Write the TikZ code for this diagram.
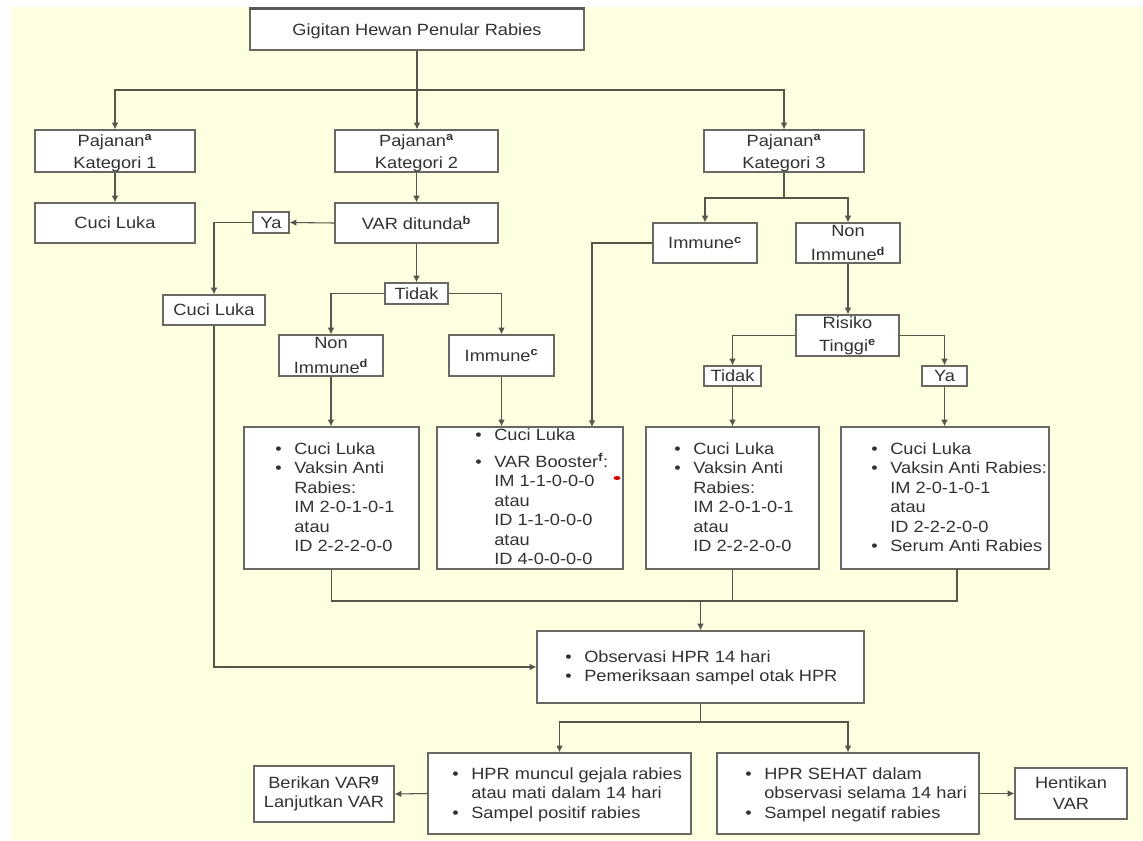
\documentclass[tikz,border=0pt]{standalone}
\usepackage{fontspec}
\setmainfont{Liberation Sans}[FakeStretch=1.12]
\usetikzlibrary{arrows.meta}
\definecolor{bgy}{RGB}{254,254,224}
\definecolor{linec}{RGB}{85,85,75}
\definecolor{boxc}{RGB}{105,105,100}
\definecolor{txtc}{RGB}{50,50,50}
\newcommand\sps[1]{\textsuperscript{\bfseries #1}}
\newcommand\blist[1]{\begin{tabular}{@{}l@{\hspace{9.5pt}}l@{}}#1\end{tabular}}
% box from (x1,y1) to (x2,y2) in pixel units
\newcommand\bxn[7][]{\node[box,#1,minimum width={(#5-#3)*0.75pt},minimum height={(#6-#4)*0.75pt}] (#2) at ({(#3+#5)/2},{(#4+#6)/2}) {#7};}
\begin{document}
\begin{tikzpicture}[x=0.75pt,y=-0.75pt,
  every node/.style={text=txtc, font=\fontsize{12.2}{14.6}\selectfont},
  box/.style={draw=boxc, fill=white, line width=1pt, inner sep=0pt},
  conn/.style={draw=linec, line width=0.8pt},
  arr/.style={conn, -{Latex[length=5pt,width=5pt]}},
  txt/.style={anchor=west, inner sep=0pt},
  twol/.style={align=center, font=\fontsize{12.2}{#1}\selectfont}]
\useasboundingbox (0,0) rectangle (1143,840);
\fill[white] (0,0) rectangle (1143,840);
\fill[bgy] (11,7) rectangle (1143,840);

% boxes
\bxn{top}{250}{9}{584}{50}{\rule{0pt}{11.5pt}Gigitan Hewan Penular Rabies}
\draw[line width=2.2pt, draw=black!65] (top.north west) -- (top.north east);
\bxn[twol=16.5pt]{pk1}{35}{130}{195}{172}{\rule{0pt}{12.4pt}Pajanan\sps{a}\\Kategori 1}
\bxn[twol=16.5pt]{pk2}{335}{130}{498}{172}{\rule{0pt}{12.4pt}Pajanan\sps{a}\\Kategori 2}
\bxn[twol=16.5pt]{pk3}{704}{130}{864}{172}{\rule{0pt}{12.4pt}Pajanan\sps{a}\\Kategori 3}
\bxn{cl1}{35}{203}{195}{243}{Cuci Luka}
\bxn{vard}{335}{203}{498}{243}{VAR ditunda\sps{b}}
\bxn{ya1}{253}{212}{289}{233}{Ya}
\bxn{cl2}{163}{295}{265}{325}{Cuci Luka}
\bxn{tid1}{385}{283}{448}{304}{Tidak}
\bxn[twol=18.5pt]{ni2}{279}{335}{383}{376}{Non\\Immune\sps{d}}
\bxn{im2}{449}{335}{554}{376}{Immune\sps{c}}
\bxn{im3}{653}{223}{757}{263}{Immune\sps{c}}
\bxn[twol=18.5pt]{ni3}{796}{223}{900}{263}{Non\\Immune\sps{d}}
\bxn[twol=17.2pt]{rt}{796}{315}{899}{356}{Risiko\\Tinggi\sps{e}}
\bxn{tid3}{704}{366}{761}{386}{Tidak}
\bxn{ya3}{922}{366}{967}{386}{Ya}
\bxn{b1}{244}{427}{419}{569}{}
\bxn{b2}{437}{427}{623}{569}{}
\bxn{b3}{646}{427}{819}{569}{}
\bxn{b4}{841}{427}{1049}{569}{}
\bxn{obs}{537}{631}{864}{703}{}
\bxn{hm}{428}{753}{691}{834}{}
\bxn{hs}{717}{753}{979}{834}{}
\bxn[twol=14.5pt]{bv}{254}{766}{394}{822}{Berikan VAR\sps{g}\\Lanjutkan VAR}
\bxn[twol=15.8pt]{hv}{1015}{768}{1127}{819}{Hentikan\\VAR}

% texts of the list boxes
\node[txt] (t1) at (275,499) {\blist{\textbullet & Cuci Luka\\ \textbullet & Vaksin Anti\\ & Rabies:\\ & IM 2-0-1-0-1\\ & atau\\ & ID 2-2-2-0-0}};
\node[txt] (t2) at (475,499) {\blist{\textbullet & Cuci Luka\\[5pt] \textbullet & VAR Booster\sps{f}:\\ & IM 1-1-0-0-0\\ & atau\\ & ID 1-1-0-0-0\\ & atau\\ & ID 4-0-0-0-0}};
\node[txt] (t3) at (674,499) {\blist{\textbullet & Cuci Luka\\ \textbullet & Vaksin Anti\\ & Rabies:\\ & IM 2-0-1-0-1\\ & atau\\ & ID 2-2-2-0-0}};
\node[txt] (t4) at (871,499) {\blist{\textbullet & Cuci Luka\\ \textbullet & Vaksin Anti Rabies:\\ & IM 2-0-1-0-1\\ & atau\\ & ID 2-2-2-0-0\\ \textbullet & Serum Anti Rabies}};
\node[txt] (t5) at (565,668) {\blist{\textbullet & Observasi HPR 14 hari\\ \textbullet & Pemeriksaan sampel otak HPR}};
\node[txt] (t6) at (452,795) {\blist{\textbullet & HPR muncul gejala rabies\\ & atau mati dalam 14 hari\\ \textbullet & Sampel positif rabies}};
\node[txt] (t7) at (745,795) {\blist{\textbullet & HPR SEHAT dalam\\ & observasi selama 14 hari\\ \textbullet & Sampel negatif rabies}};
\fill[red!85!black] (617,478) ellipse [x radius=2.6pt, y radius=1.5pt];

% junctions
\coordinate (j1) at (417,90);
\coordinate (j3) at (784,198);
\coordinate (b2in) at (592,427);
\coordinate (b4out) at (957,569);
\coordinate (jm) at (700.5,601);
\coordinate (jb) at (700.5,722);

% connectors
\draw[arr] (top.south) -- (top.south |- pk2.north);
\draw[arr] (j1) -| (pk1.north);
\draw[arr] (j1) -| (pk3.north);
\draw[arr] (pk1) -- (cl1);
\draw[arr] (pk2.south) -- (pk2.south |- vard.north);
\draw[arr] (vard.west) -- (ya1.east);
\draw[arr] (ya1.west) -| (cl2.north);
\draw[arr] (vard.south) -- (vard.south |- tid1.north);
\draw[arr] (tid1.west) -| (ni2.north);
\draw[arr] (tid1.east) -| (im2.north);
\draw[arr] (ni2.south) -- (ni2.south |- b1.north);
\draw[arr] (im2.south) -- (im2.south |- b2.north);
\draw[arr] (im3.west) -| (b2in);
\draw[conn] (pk3.south) -- (j3);
\draw[arr] (j3) -| (im3.north);
\draw[arr] (j3) -| (ni3.north);
\draw[arr] (ni3.south) -- (ni3.south |- rt.north);
\draw[arr] (rt.west) -| (tid3.north);
\draw[arr] (rt.east) -| (ya3.north);
\draw[arr] (tid3.south) -- (tid3.south |- b3.north);
\draw[arr] (ya3.south) -- (ya3.south |- b4.north);
\draw[conn] (b1.south) |- (jm);
\draw[conn] (b4out) |- (jm);
\draw[conn] (b3.south) -- (b3.south |- jm);
\draw[arr] (jm) -- (obs.north);
\draw[arr] (cl2.south) |- (obs.west);
\draw[conn] (obs.south) -- (jb);
\draw[arr] (jb) -| (hm.north);
\draw[arr] (jb) -| (hs.north);
\draw[arr] (hm.west) -- (bv.east);
\draw[arr] (hs.east) -- (hv.west);
\end{tikzpicture}
\end{document}
